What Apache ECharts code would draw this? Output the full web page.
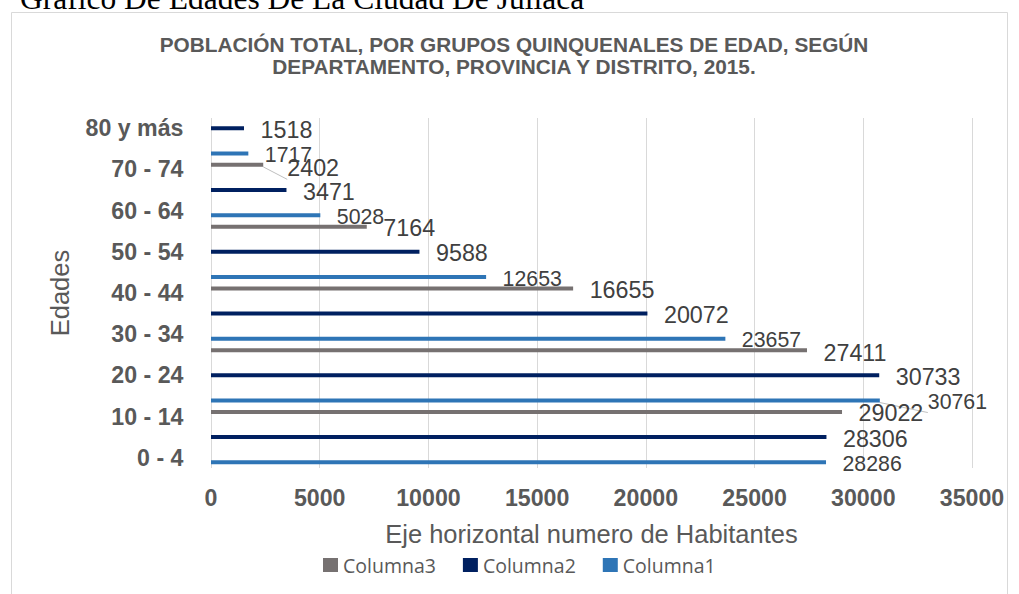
<!DOCTYPE html>
<html>
<head>
<meta charset="utf-8">
<script src="https://cdn.jsdelivr.net/npm/echarts@6/dist/echarts.min.js"></script>
<style>
html,body{margin:0;padding:0;background:#ffffff;}
#chart{width:1019px;height:594px;}
</style>
</head>
<body>
<div id="chart"></div>
<script>
// ---- data ----
const categories = ['0 - 4','5 - 9','10 - 14','15 - 19','20 - 24','25 - 29','30 - 34','35 - 39','40 - 44','45 - 49','50 - 54','55 - 59','60 - 64','65 - 69','70 - 74','75 - 79','80 y más'];
const columna1 = [28286, null, null, 30761, null, null, 23657, null, null, 12653, null, null, 5028, null, null, 1717, null];
const columna2 = [null, 28306, null, null, 30733, null, null, 20072, null, null, 9588, null, null, 3471, null, null, 1518];
const columna3 = [null, null, 29022, null, null, 27411, null, null, 16655, null, null, 7164, null, null, 2402, null, null];
const seriesNames = ['Columna3', 'Columna2', 'Columna1'];
const xMin = 0, xMax = 35000, xStep = 5000;
const headerText = 'Grafico De Edades De La Ciudad De Juliaca';
const titleText = 'POBLACIÓN TOTAL, POR GRUPOS QUINQUENALES DE EDAD, SEGÚN\nDEPARTAMENTO, PROVINCIA Y DISTRITO, 2015.';
const xName = 'Eje horizontal numero de Habitantes';
const yName = 'Edades';

// ---- style ----
const colors = {Columna3:'#767171', Columna2:'#002060', Columna1:'#2E75B6'};
const labelTweaks = {
  'Columna3:14': {distance: 24, dy: 3, leader: true},
  'Columna1:3': {distance: 48, dy: 1.5, leader: true},
  'Columna3:5': {dy: 3}
};
const FONT = '"Liberation Sans", Arial, sans-serif';

function buildData(values, name) {
  return values.map(function (v, i) {
    if (v == null) return '-';
    const t = labelTweaks[name + ':' + i];
    const item = {value: v};
    if (t) {
      item.label = {distance: t.distance != null ? t.distance : 16.5, offset: [0, t.dy != null ? t.dy : 1.5]};
      if (t.leader) item.labelLine = {show: true, lineStyle: {color: '#BFBFBF', width: 1}};
    }
    return item;
  });
}
const valuesByName = {Columna1: columna1, Columna2: columna2, Columna3: columna3};

const chart = echarts.init(document.getElementById('chart'), null, {renderer: 'svg'});
chart.setOption({
  animation: false,
  backgroundColor: '#ffffff',
  graphic: [
    {type: 'rect', silent: true, z: -10,
     shape: {x: 11.5, y: 12.5, width: 996, height: 700},
     style: {fill: 'none', stroke: '#D9D9D9', lineWidth: 1}},
    {type: 'text', silent: true,
     style: {text: headerText, x: 20, y: -2, fill: '#000000',
             font: '31.5px "Liberation Serif", "Times New Roman", serif',
             verticalAlign: 'middle', align: 'left'}}
  ],
  title: {
    text: titleText,
    left: 514, top: 33, textAlign: 'center', padding: 0,
    textStyle: {fontFamily: FONT, fontSize: 20.8, fontWeight: 'bold', color: '#595959', lineHeight: 22}
  },
  legend: {
    data: seriesNames,
    left: 323, top: 555, padding: 0,
    icon: 'rect', itemWidth: 15, itemHeight: 14, itemGap: 27,
    textStyle: {fontFamily: '"Open Sans", sans-serif', fontSize: 19.5, color: '#595959'}
  },
  grid: {left: 211, right: 47, top: 118, bottom: 126, containLabel: false, outerBoundsMode: 'none'},
  xAxis: {
    type: 'value', min: xMin, max: xMax, interval: xStep,
    axisLine: {show: false}, axisTick: {show: false},
    splitLine: {show: true, lineStyle: {color: '#D9D9D9', width: 1}},
    axisLabel: {margin: 18, fontFamily: FONT, fontSize: 23.2, fontWeight: 'bold', color: '#595959',
                formatter: function (v) { return String(v); }},
    name: xName, nameLocation: 'middle', nameGap: 53,
    nameTextStyle: {fontFamily: FONT, fontSize: 25.5, color: '#595959'}
  },
  yAxis: {
    type: 'category', data: categories,
    axisLine: {show: false}, axisTick: {show: false},
    axisLabel: {interval: 1, margin: 27.5, fontFamily: FONT, fontSize: 23.2, fontWeight: 'bold', color: '#595959'},
    name: yName, nameLocation: 'middle', nameRotate: 90, nameGap: 138,
    nameTextStyle: {fontFamily: FONT, fontSize: 25.5, color: '#595959'}
  },
  series: seriesNames.map(function (name) {
    return {
      name: name, type: 'bar',
      data: buildData(valuesByName[name], name),
      barWidth: 4, barGap: '15%',
      itemStyle: {color: colors[name]},
      label: {show: true, position: 'right', distance: 16.5, offset: [0, 1.5],
              color: '#404040', fontFamily: FONT,
              fontSize: name === 'Columna1' ? 21.3 : 23.3}
    };
  })
});
</script>
</body>
</html>
